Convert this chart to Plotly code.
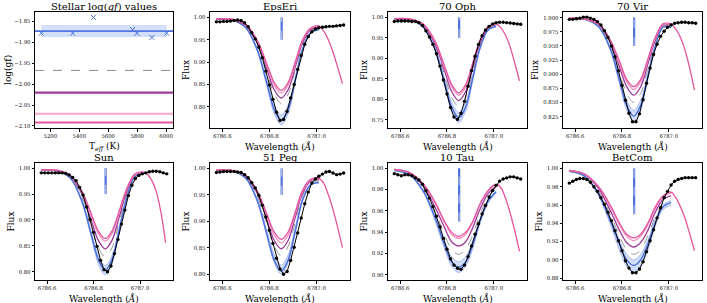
import plotly.graph_objects as go

# ---------------- data: stellar log(gf) panel ----------------
teff = [5138, 5355, 5498, 5769, 5799, 5902, 6004]
loggf_star = [-1.878, -1.878, -1.840, -1.869, -1.878, -1.888, -1.878]
loggf_mean = -1.873
loggf_band = [-1.887, -1.858]
ref_loggf = [-1.967, -2.020, -2.071, -2.092]   # gray dashed, purple, light pink, hot pink

# ---------------- data: spectra ----------------
star_names = ["EpsEri", "70 Oph", "70 Vir", "Sun", "51 Peg", "10 Tau", "BetCom"]
line_center = 6786.852
marker_flux = [0.95, 1.00]

obs_wave = [6786.575, 6786.590, 6786.605, 6786.620, 6786.635, 6786.650, 6786.665, 6786.680,
            6786.695, 6786.710, 6786.725, 6786.740, 6786.755, 6786.770, 6786.785, 6786.800,
            6786.815, 6786.830, 6786.845, 6786.860, 6786.875, 6786.890, 6786.905, 6786.920,
            6786.935, 6786.950, 6786.965, 6786.980, 6786.995, 6787.010, 6787.025, 6787.040,
            6787.055, 6787.070, 6787.085, 6787.100, 6787.115]
syn_wave = [6786.575, 6786.64, 6786.70, 6786.75, 6786.79, 6786.82, 6786.85, 6786.88,
            6786.91, 6786.94, 6786.975, 6787.01]
ext_wave = [6787.03, 6787.05, 6787.07, 6787.09, 6787.11]

epseri_obs = [0.990, 0.990, 0.991, 0.991, 0.992, 0.993, 0.994, 0.993, 0.988, 0.979, 0.966, 0.952, 0.934,
              0.910, 0.880, 0.849, 0.817, 0.788, 0.770, 0.772, 0.790, 0.820, 0.850, 0.884, 0.915, 0.940,
              0.957, 0.968, 0.974, 0.977, 0.978, 0.979, 0.980, 0.980, 0.981, 0.982, 0.983]
epseri_lo = [0.995, 0.994, 0.976, 0.922, 0.845, 0.786, 0.760, 0.786, 0.854, 0.925, 0.964, 0.972]
epseri_blue = [0.995, 0.994, 0.977, 0.925, 0.851, 0.795, 0.770, 0.795, 0.860, 0.928, 0.966, 0.973]
epseri_hi = [0.995, 0.994, 0.978, 0.929, 0.859, 0.805, 0.782, 0.805, 0.867, 0.931, 0.967, 0.974]
epseri_gray = [0.995, 0.994, 0.980, 0.937, 0.875, 0.829, 0.808, 0.829, 0.883, 0.939, 0.971, 0.976]
epseri_purple = [0.996, 0.995, 0.982, 0.941, 0.883, 0.839, 0.820, 0.839, 0.890, 0.943, 0.973, 0.978]
epseri_pink1 = [0.997, 0.996, 0.984, 0.946, 0.891, 0.849, 0.831, 0.849, 0.897, 0.947, 0.975, 0.980]
epseri_pink2 = [0.997, 0.996, 0.984, 0.947, 0.895, 0.855, 0.837, 0.855, 0.901, 0.949, 0.976, 0.981]
epseri_ext = [0.970, 0.950, 0.922, 0.888, 0.852]

oph70_obs = [0.990, 0.991, 0.991, 0.991, 0.991, 0.990, 0.990, 0.987, 0.980, 0.967, 0.952, 0.934, 0.911,
             0.881, 0.847, 0.813, 0.780, 0.757, 0.751, 0.766, 0.795, 0.832, 0.870, 0.905, 0.934, 0.955,
             0.969, 0.978, 0.984, 0.987, 0.988, 0.988, 0.987, 0.986, 0.985, 0.984, 0.983]
oph70_lo = [0.995, 0.994, 0.975, 0.917, 0.834, 0.771, 0.743, 0.771, 0.844, 0.919, 0.967, 0.977]
oph70_blue = [0.995, 0.994, 0.976, 0.921, 0.841, 0.781, 0.755, 0.781, 0.851, 0.923, 0.969, 0.978]
oph70_hi = [0.995, 0.994, 0.977, 0.925, 0.850, 0.793, 0.768, 0.793, 0.859, 0.927, 0.970, 0.979]
oph70_gray = [0.995, 0.994, 0.978, 0.929, 0.859, 0.805, 0.782, 0.805, 0.867, 0.931, 0.972, 0.980]
oph70_purple = [0.996, 0.995, 0.980, 0.934, 0.869, 0.819, 0.797, 0.819, 0.877, 0.936, 0.974, 0.982]
oph70_pink1 = [0.997, 0.996, 0.982, 0.939, 0.877, 0.831, 0.810, 0.831, 0.885, 0.941, 0.976, 0.984]
oph70_pink2 = [0.997, 0.996, 0.983, 0.941, 0.881, 0.836, 0.816, 0.836, 0.888, 0.943, 0.977, 0.984]
oph70_ext = [0.975, 0.957, 0.928, 0.888, 0.845]

vir70_obs = [0.997, 0.997, 0.998, 0.999, 1.001, 1.001, 0.999, 0.997, 0.993, 0.987, 0.977, 0.965, 0.950,
             0.931, 0.906, 0.880, 0.854, 0.831, 0.816, 0.816, 0.830, 0.855, 0.884, 0.911, 0.935, 0.953,
             0.967, 0.976, 0.983, 0.987, 0.990, 0.991, 0.992, 0.992, 0.991, 0.991, 0.990]
vir70_lo = [0.998, 0.997, 0.984, 0.942, 0.882, 0.837, 0.817, 0.837, 0.889, 0.944, 0.983, 0.983]
vir70_blue = [0.998, 0.997, 0.984, 0.945, 0.888, 0.845, 0.826, 0.845, 0.895, 0.946, 0.983, 0.983]
vir70_hi = [0.998, 0.997, 0.985, 0.948, 0.894, 0.854, 0.836, 0.854, 0.901, 0.949, 0.984, 0.984]
vir70_gray = [0.998, 0.997, 0.986, 0.952, 0.903, 0.866, 0.850, 0.866, 0.909, 0.954, 0.985, 0.985]
vir70_purple = [0.999, 0.998, 0.988, 0.957, 0.912, 0.878, 0.863, 0.878, 0.917, 0.958, 0.987, 0.987]
vir70_pink1 = [0.999, 0.998, 0.989, 0.960, 0.918, 0.887, 0.873, 0.887, 0.923, 0.961, 0.988, 0.988]
vir70_pink2 = [0.999, 0.998, 0.989, 0.961, 0.922, 0.891, 0.878, 0.891, 0.926, 0.963, 0.989, 0.989]
vir70_ext = [0.980, 0.965, 0.942, 0.910, 0.872]

sun_obs = [0.991, 0.991, 0.991, 0.991, 0.991, 0.991, 0.991, 0.990, 0.987, 0.982, 0.976, 0.963, 0.948,
           0.925, 0.901, 0.876, 0.849, 0.822, 0.804, 0.800, 0.811, 0.835, 0.862, 0.892, 0.919, 0.947,
           0.967, 0.980, 0.986, 0.989, 0.991, 0.993, 0.994, 0.994, 0.993, 0.991, 0.989]
sun_lo = [0.996, 0.995, 0.980, 0.933, 0.867, 0.816, 0.794, 0.816, 0.875, 0.935, 0.982, 0.990]
sun_blue = [0.996, 0.995, 0.981, 0.936, 0.872, 0.824, 0.803, 0.824, 0.880, 0.938, 0.982, 0.990]
sun_hi = [0.996, 0.995, 0.981, 0.939, 0.878, 0.832, 0.812, 0.832, 0.886, 0.941, 0.983, 0.990]
sun_gray = [0.996, 0.995, 0.983, 0.944, 0.889, 0.847, 0.829, 0.847, 0.896, 0.946, 0.984, 0.991]
sun_purple = [0.997, 0.996, 0.985, 0.950, 0.899, 0.861, 0.844, 0.861, 0.905, 0.951, 0.986, 0.992]
sun_pink1 = [0.997, 0.996, 0.986, 0.954, 0.909, 0.874, 0.859, 0.874, 0.914, 0.956, 0.987, 0.993]
sun_pink2 = [0.997, 0.996, 0.986, 0.956, 0.912, 0.879, 0.864, 0.879, 0.917, 0.957, 0.988, 0.993]
sun_ext = [0.989, 0.977, 0.955, 0.915, 0.856]

peg51_obs = [0.992, 0.993, 0.994, 0.994, 0.994, 0.994, 0.993, 0.992, 0.988, 0.982, 0.973, 0.963, 0.949,
             0.930, 0.908, 0.883, 0.858, 0.830, 0.810, 0.800, 0.805, 0.826, 0.851, 0.878, 0.906, 0.933,
             0.955, 0.972, 0.980, 0.985, 0.989, 0.993, 0.994, 0.991, 0.988, 0.989, 0.991]
peg51_lo = [0.996, 0.995, 0.980, 0.935, 0.871, 0.822, 0.800, 0.822, 0.878, 0.937, 0.969, 0.972]
peg51_blue = [0.996, 0.995, 0.981, 0.937, 0.874, 0.827, 0.806, 0.827, 0.882, 0.939, 0.969, 0.973]
peg51_hi = [0.996, 0.995, 0.982, 0.941, 0.881, 0.837, 0.817, 0.837, 0.889, 0.942, 0.971, 0.975]
peg51_gray = [0.996, 0.995, 0.983, 0.946, 0.893, 0.853, 0.835, 0.853, 0.899, 0.948, 0.973, 0.977]
peg51_purple = [0.997, 0.996, 0.985, 0.951, 0.902, 0.864, 0.848, 0.864, 0.908, 0.952, 0.976, 0.979]
peg51_pink1 = [0.997, 0.996, 0.986, 0.954, 0.909, 0.874, 0.859, 0.874, 0.914, 0.956, 0.978, 0.980]
peg51_pink2 = [0.997, 0.996, 0.987, 0.956, 0.913, 0.880, 0.866, 0.880, 0.918, 0.958, 0.979, 0.981]
peg51_ext = [0.972, 0.950, 0.922, 0.888, 0.850]

tau10_obs = [0.995, 0.994, 0.993, 0.994, 0.994, 0.993, 0.991, 0.989, 0.985, 0.979, 0.972, 0.964, 0.955,
             0.945, 0.934, 0.924, 0.915, 0.909, 0.906, 0.905, 0.909, 0.917, 0.927, 0.938, 0.948, 0.957,
             0.965, 0.973, 0.979, 0.984, 0.988, 0.990, 0.991, 0.992, 0.992, 0.991, 0.990]
tau10_lo = [0.998, 0.994, 0.977, 0.950, 0.924, 0.908, 0.902, 0.908, 0.924, 0.947, 0.967, 0.977]
tau10_blue = [0.998, 0.994, 0.978, 0.953, 0.928, 0.912, 0.907, 0.912, 0.928, 0.950, 0.969, 0.978]
tau10_hi = [0.998, 0.995, 0.979, 0.955, 0.932, 0.917, 0.912, 0.917, 0.932, 0.952, 0.970, 0.979]
tau10_gray = [0.998, 0.995, 0.981, 0.959, 0.937, 0.924, 0.919, 0.924, 0.937, 0.956, 0.973, 0.981]
tau10_purple = [0.999, 0.996, 0.983, 0.963, 0.944, 0.931, 0.927, 0.931, 0.944, 0.961, 0.976, 0.983]
tau10_pink1 = [0.999, 0.996, 0.985, 0.967, 0.949, 0.938, 0.934, 0.938, 0.949, 0.965, 0.978, 0.985]
tau10_pink2 = [0.999, 0.996, 0.985, 0.968, 0.950, 0.940, 0.936, 0.940, 0.950, 0.966, 0.979, 0.985]
tau10_ext = [0.982, 0.972, 0.958, 0.941, 0.922]

betcom_obs = [0.984, 0.986, 0.988, 0.989, 0.989, 0.988, 0.985, 0.980, 0.975, 0.968, 0.961, 0.952, 0.943,
              0.932, 0.921, 0.910, 0.899, 0.891, 0.886, 0.886, 0.890, 0.898, 0.909, 0.921, 0.933, 0.946,
              0.957, 0.968, 0.975, 0.982, 0.986, 0.988, 0.989, 0.990, 0.990, 0.990, 0.990]
betcom_lo = [0.997, 0.991, 0.970, 0.939, 0.910, 0.893, 0.886, 0.893, 0.910, 0.935, 0.955, 0.960]
betcom_blue = [0.997, 0.992, 0.972, 0.943, 0.917, 0.900, 0.894, 0.900, 0.917, 0.939, 0.958, 0.963]
betcom_hi = [0.997, 0.992, 0.974, 0.947, 0.921, 0.906, 0.900, 0.906, 0.921, 0.943, 0.960, 0.965]
betcom_gray = [0.997, 0.992, 0.975, 0.950, 0.926, 0.911, 0.906, 0.911, 0.926, 0.946, 0.962, 0.967]
betcom_purple = [0.998, 0.994, 0.978, 0.954, 0.932, 0.919, 0.914, 0.919, 0.932, 0.951, 0.966, 0.970]
betcom_pink1 = [0.998, 0.994, 0.980, 0.958, 0.938, 0.926, 0.921, 0.926, 0.938, 0.955, 0.969, 0.973]
betcom_pink2 = [0.998, 0.994, 0.980, 0.960, 0.940, 0.928, 0.924, 0.928, 0.940, 0.957, 0.970, 0.974]
betcom_ext = [0.968, 0.958, 0.945, 0.928, 0.910]

spectra = [
    (epseri_obs, epseri_lo, epseri_blue, epseri_hi, epseri_gray, epseri_purple, epseri_pink1, epseri_pink2, epseri_ext),
    (oph70_obs, oph70_lo, oph70_blue, oph70_hi, oph70_gray, oph70_purple, oph70_pink1, oph70_pink2, oph70_ext),
    (vir70_obs, vir70_lo, vir70_blue, vir70_hi, vir70_gray, vir70_purple, vir70_pink1, vir70_pink2, vir70_ext),
    (sun_obs, sun_lo, sun_blue, sun_hi, sun_gray, sun_purple, sun_pink1, sun_pink2, sun_ext),
    (peg51_obs, peg51_lo, peg51_blue, peg51_hi, peg51_gray, peg51_purple, peg51_pink1, peg51_pink2, peg51_ext),
    (tau10_obs, tau10_lo, tau10_blue, tau10_hi, tau10_gray, tau10_purple, tau10_pink1, tau10_pink2, tau10_ext),
    (betcom_obs, betcom_lo, betcom_blue, betcom_hi, betcom_gray, betcom_purple, betcom_pink1, betcom_pink2, betcom_ext),
]

# ---------------- styles / layout ----------------
W, H = 707, 303
FONT = "DejaVu Serif"
BLUE = "#4a6fdc"
BAND = "rgba(110,145,235,0.30)"
BAND_EDGE = "rgba(120,150,235,0.8)"
GRAY = "#8c8c8c"
PURPLE = "#9b3a98"
PINK1 = "#f28dc0"
PINK2 = "#e4559f"

col_px = [(35, 173), (210, 350), (388, 527), (563, 702)]
row_px = [(12, 128), (163, 280)]

y_ranges = [[0.753, 1.012], [0.730, 1.013], [0.805, 1.010], [0.784, 1.010],
            [0.789, 1.010], [0.895, 1.005], [0.878, 1.006]]
y_dticks = [0.05, 0.05, 0.025, 0.05, 0.05, 0.02, 0.02]
y_fmts = [".2f", ".2f", ".3f", ".2f", ".2f", ".2f", ".2f"]

fig = go.Figure()
layout = dict(width=W, height=H, margin=dict(l=0, r=0, t=0, b=0), template="none",
              paper_bgcolor="white", plot_bgcolor="white", showlegend=False,
              font=dict(family=FONT, color="black"))
annotations = []
shapes = []

axis_common = dict(showline=True, mirror=True, linecolor="black", linewidth=1,
                   ticks="outside", ticklen=2.5, tickwidth=0.8, tickcolor="black",
                   showgrid=False, zeroline=False, automargin=False,
                   tickfont=dict(family=FONT, size=5.3, color="black"))


def domains(i):
    r, c = divmod(i, 4)
    l, rr = col_px[c]
    t, b = row_px[r]
    return [l / W, rr / W], [1 - b / H, 1 - t / H]


titles = ["Stellar log(<i>gf</i>) values"] + star_names
xlabels = ["T<sub><i>eff</i></sub> (K)"] + ["Wavelength (<i>Å</i>)"] * 7
ylabels = ["log(gf)"] + ["Flux"] * 7
ylabel_gap = [27, 24, 24, 28, 24, 24, 24, 24]


def label(text, x, y, size, angle=0, xanchor="center", yanchor="middle"):
    return dict(text=text, x=x, y=y, xref="paper", yref="paper", xanchor=xanchor, yanchor=yanchor,
                showarrow=False, textangle=angle, borderpad=0,
                font=dict(family=FONT, size=size, color="black"))


for i in range(8):
    xd, yd = domains(i)
    r, c = divmod(i, 4)
    n = "" if i == 0 else str(i + 1)
    xa = dict(axis_common, domain=xd, anchor="y" + n)
    ya = dict(axis_common, domain=yd, anchor="x" + n)
    if i == 0:
        xa.update(range=[5094, 6048], tickvals=[5200, 5400, 5600, 5800, 6000])
        ya.update(range=[-2.105, -1.827], tickvals=[-2.10, -2.05, -2.00, -1.95, -1.90, -1.85],
                  tickformat=".2f")
    else:
        k = i - 1
        xa.update(range=[6786.548, 6787.142], tick0=6786.6, dtick=0.2, tickformat=".1f")
        ya.update(range=y_ranges[k], dtick=y_dticks[k], tick0=1.0, tickformat=y_fmts[k])
    layout["xaxis" + n] = xa
    layout["yaxis" + n] = ya
    top_px, bot_px = row_px[r]
    left_px = col_px[c][0]
    annotations.append(label(titles[i], (xd[0] + xd[1]) / 2, 1 - (top_px - 6) / H, 10))
    annotations.append(label(xlabels[i], (xd[0] + xd[1]) / 2, 1 - (bot_px + 18.5) / H, 9))
    annotations.append(label(ylabels[i], (left_px - ylabel_gap[i]) / W, (yd[0] + yd[1]) / 2, 9,
                             angle=-90))

# ---- panel 1: stellar log(gf)
fig.add_trace(go.Scatter(x=[min(teff), max(teff)], y=[loggf_band[0]] * 2, mode="lines",
                         line=dict(width=0, color=BAND), xaxis="x", yaxis="y", hoverinfo="skip"))
fig.add_trace(go.Scatter(x=[min(teff), max(teff)], y=[loggf_band[1]] * 2, mode="lines",
                         line=dict(width=0, color=BAND), fill="tonexty", fillcolor=BAND,
                         xaxis="x", yaxis="y", hoverinfo="skip"))
for val, col, wid, dash in [(loggf_mean, BLUE, 1.8, "solid"), (ref_loggf[0], GRAY, 1.0, "dash"),
                            (ref_loggf[1], PURPLE, 2.2, "solid"), (ref_loggf[2], "#f6a8cc", 2.0, "solid"),
                            (ref_loggf[3], PINK2, 2.0, "solid")]:
    shapes.append(dict(type="line", xref="x domain", yref="y", x0=0, x1=1, y0=val, y1=val,
                       line=dict(color=col, width=wid, dash=dash), layer="below"))
fig.add_trace(go.Scatter(x=teff, y=loggf_star, mode="markers", xaxis="x", yaxis="y",
                         marker=dict(symbol="x-thin", size=5, line=dict(width=1, color=BLUE), color=BLUE)))

# ---- spectral panels
for k, (obs, lo, blue, hi, gray, purple, pink1, pink2, ext) in enumerate(spectra):
    n = str(k + 2)
    ax = dict(xaxis="x" + n, yaxis="y" + n)
    sp = dict(shape="spline", smoothing=0.9)
    fig.add_trace(go.Scatter(x=syn_wave, y=hi, mode="lines", line=dict(color=BAND_EDGE, width=0.7, **sp), **ax))
    fig.add_trace(go.Scatter(x=syn_wave, y=lo, mode="lines", line=dict(color=BAND_EDGE, width=0.7, **sp),
                             fill="tonexty", fillcolor=BAND, **ax))
    fig.add_trace(go.Scatter(x=syn_wave, y=blue, mode="lines", line=dict(color=BLUE, width=1.4, **sp), **ax))
    fig.add_trace(go.Scatter(x=syn_wave, y=gray, mode="lines",
                             line=dict(color=GRAY, width=0.9, dash="dash", **sp), **ax))
    fig.add_trace(go.Scatter(x=syn_wave, y=purple, mode="lines", line=dict(color=PURPLE, width=1.3, **sp), **ax))
    fig.add_trace(go.Scatter(x=syn_wave, y=pink1, mode="lines", line=dict(color=PINK1, width=1.3, **sp), **ax))
    fig.add_trace(go.Scatter(x=syn_wave + ext_wave, y=pink2 + ext, mode="lines",
                             line=dict(color=PINK2, width=1.3, **sp), **ax))
    fig.add_trace(go.Scatter(x=[line_center] * 2, y=marker_flux, mode="lines",
                             line=dict(color=BLUE, width=2.2), **ax))
    fig.add_trace(go.Scatter(x=[line_center] * 2, y=marker_flux, mode="lines",
                             line=dict(color="#d8d8e8", width=0.8, dash="dash"), **ax))
    fig.add_trace(go.Scatter(x=obs_wave, y=obs, mode="lines+markers",
                             line=dict(color="black", width=1),
                             marker=dict(color="black", size=3.4), **ax))

layout["annotations"] = annotations
layout["shapes"] = shapes
fig.update_layout(**layout)
fig.write_html("out.html", config={"displayModeBar": False},
               post_script="document.body.style.margin='0px';")
